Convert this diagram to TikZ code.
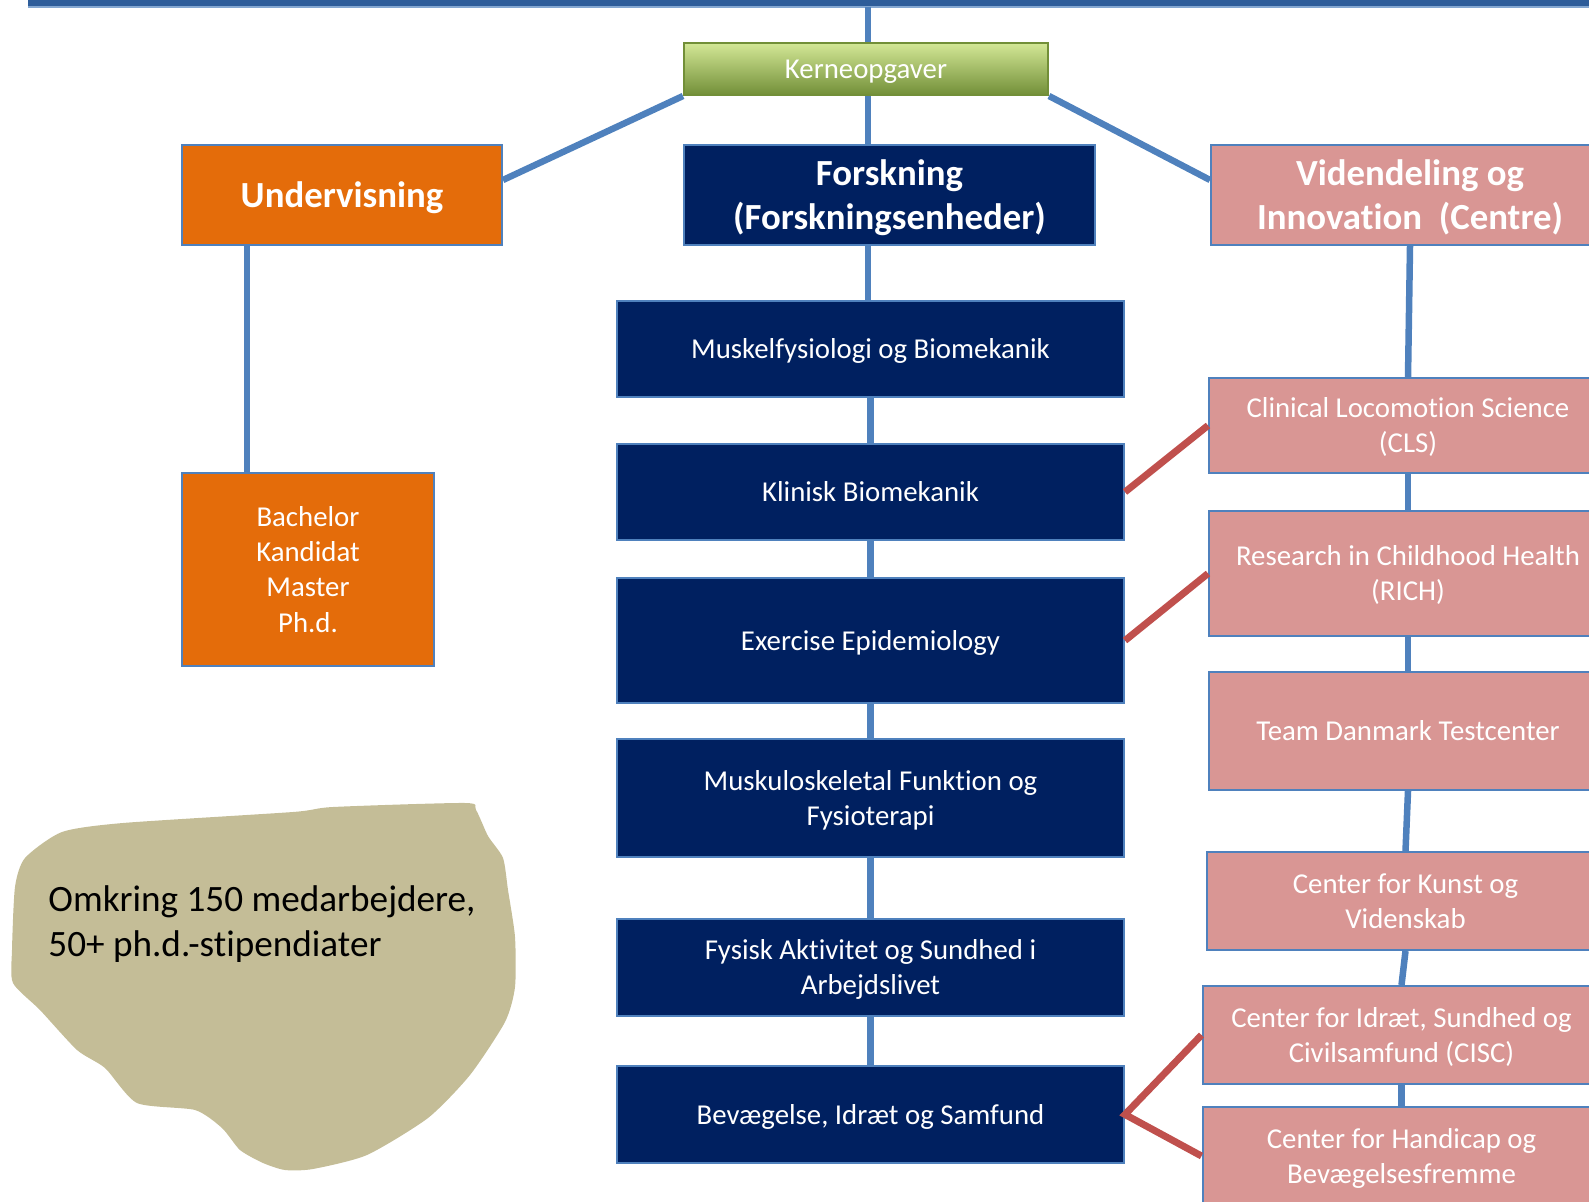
\documentclass[tikz,border=0pt]{standalone}
\usepackage{fontspec}
\setmainfont{Carlito}[Ligatures=CommonOff]

\definecolor{navy}{HTML}{002060}
\definecolor{frame}{HTML}{4F81BD}
\definecolor{barblue}{HTML}{2E5D9A}
\definecolor{orangefill}{HTML}{E46C0A}
\definecolor{pinkfill}{HTML}{D99694}
\definecolor{redlink}{HTML}{C0504D}
\definecolor{sand}{HTML}{C4BD97}
\definecolor{greentop}{HTML}{D3E796}
\definecolor{greenmid}{HTML}{A4C552}
\definecolor{greenbot}{HTML}{728F38}

\newcommand{\bodyfont}{\fontsize{14.4}{17.6}\selectfont}
\newcommand{\headfont}{\fontsize{18.4}{22.3}\selectfont\bfseries}

\tikzset{
	box/.style={draw=frame, line width=1pt, text=white, align=center, inner sep=2pt, font=\bodyfont, text height=13.7pt, text depth=3.9pt},
	twolines/.style={text height=31.3pt},
	fourlines/.style={text height=66.5pt},
	navybox/.style={box, fill=navy, minimum width=253.5pt},
	pinkbox/.style={box, fill=pinkfill, minimum width=199pt},
	orangebox/.style={box, fill=orangefill},
	headbox/.style={font=\headfont, minimum height=50pt, text height=17.5pt, text depth=5pt},
	headtwo/.style={headbox, text height=39.8pt},
	bluelink/.style={draw=frame, line width=3.25pt},
	redline/.style={draw=redlink, line width=3.5pt, line join=miter}
}

\begin{document}
\begin{tikzpicture}[x=0.5pt, y=-0.5pt]
	\clip (0,0) rectangle (1589,1202);
	\useasboundingbox (0,0) rectangle (1589,1202);

	\fill[barblue] (28,-20) rectangle (1600,7);
	\draw[frame!70, line width=0.8pt] (28,7) -- (1600,7);
	\coordinate (top) at (868,7);

	\node[box, draw=greenbot, top color=greentop, middle color=greenmid, bottom color=greenbot, minimum width=182pt, minimum height=26pt] (kerne) at (866,69) {Kerneopgaver};

	\node[orangebox, headbox, minimum width=160pt] (under) at (342,195) {Undervisning};
	\node[box, fill=navy, headtwo, minimum width=205.5pt] (forsk) at (889.5,195) {Forskning\\(Forskningsenheder)};
	\node[pinkbox, headtwo] (viden) at (1410,195) {Videndeling og\\Innovation~~(Centre)};

	\node[orangebox, fourlines, minimum width=126pt, minimum height=96.5pt] (bach) at (308,569.5) {Bachelor\\Kandidat\\Master\\Ph.d.};

	\node[navybox, minimum height=48pt] (musk) at (870.5,349) {Muskelfysiologi og Biomekanik};
	\node[navybox, minimum height=48pt] (klin) at (870.5,492) {Klinisk Biomekanik};
	\node[navybox, minimum height=62.5pt] (exer) at (870.5,640.5) {Exercise Epidemiology};
	\node[navybox, twolines, minimum height=59pt] (muskf) at (870.5,798) {Muskuloskeletal Funktion og\\Fysioterapi};
	\node[navybox, twolines, minimum height=48.5pt] (fysisk) at (870.5,967.5) {Fysisk Aktivitet og Sundhed i\\Arbejdslivet};
	\node[navybox, minimum height=48.5pt] (bev) at (870.5,1114.5) {Bevægelse, Idræt og Samfund};

	\node[pinkbox, twolines, minimum height=47.5pt] (cls) at (1408,425.5) {Clinical Locomotion Science\\(CLS)};
	\node[pinkbox, twolines, minimum height=62.5pt] (rich) at (1408,573.5) {Research in Childhood Health\\(RICH)};
	\node[pinkbox, minimum height=59pt] (team) at (1408,731) {Team Danmark Testcenter};
	\node[pinkbox, twolines, minimum height=49pt] (kunst) at (1405.5,901) {Center for Kunst og\\Videnskab};
	\node[pinkbox, twolines, minimum height=49pt] (cisc) at (1401.5,1035) {Center for Idræt, Sundhed og\\Civilsamfund (CISC)};
	\node[pinkbox, twolines, minimum height=49pt] (handi) at (1401.5,1156) {Center for Handicap og\\Bevægelsesfremme};

	\draw[bluelink] (top) -- (top |- kerne.north);
	\draw[bluelink] (top |- kerne.south) -- (top |- forsk.north);
	\draw[bluelink] (top |- forsk.south) -- (top |- musk.north);
	\draw[bluelink] (kerne.south west) -- ([yshift=7.5pt]under.east);
	\draw[bluelink] (kerne.south east) -- ([yshift=7.5pt]viden.west);
	\draw[bluelink] ([xshift=-30.5pt]bach.north) -- ([xshift=-30.5pt]bach.north |- under.south);
	\foreach \a/\b in {musk/klin, klin/exer, exer/muskf, muskf/fysisk, fysisk/bev}
		\draw[bluelink] (\a.south) -- (\b.north);
	\foreach \a/\b in {viden/cls, cls/rich, rich/team, team/kunst, kunst/cisc, cisc/handi}
		\draw[bluelink] (\a.south) -- (\b.north);

	\draw[redline] (klin.east) -- (cls.west);
	\draw[redline] (exer.east) -- (rich.west);
	\draw[redline] (cisc.west) -- (bev.east) -- (handi.west);

	\fill[sand] plot[smooth cycle, tension=0.4] coordinates {(62,832) (123,823) (293,812) (333,807) (465,803) (476,810) (488,836) (503,858) (508,890) (515,937) (515,987) (505,1022) (470,1075) (428,1118) (367,1155) (313,1169) (285,1170) (263,1163) (240,1150) (222,1128) (195,1110) (137,1103) (105,1068) (77,1050) (40,1010) (13,983) (12,950) (15,887) (25,858)};
	\node[anchor=west, align=left, font=\fontsize{18.6}{22.4}\selectfont, inner sep=0pt] (staff) at (48,924) {Omkring 150 medarbejdere,\\50+ ph.d.-stipendiater};
\end{tikzpicture}
\end{document}
